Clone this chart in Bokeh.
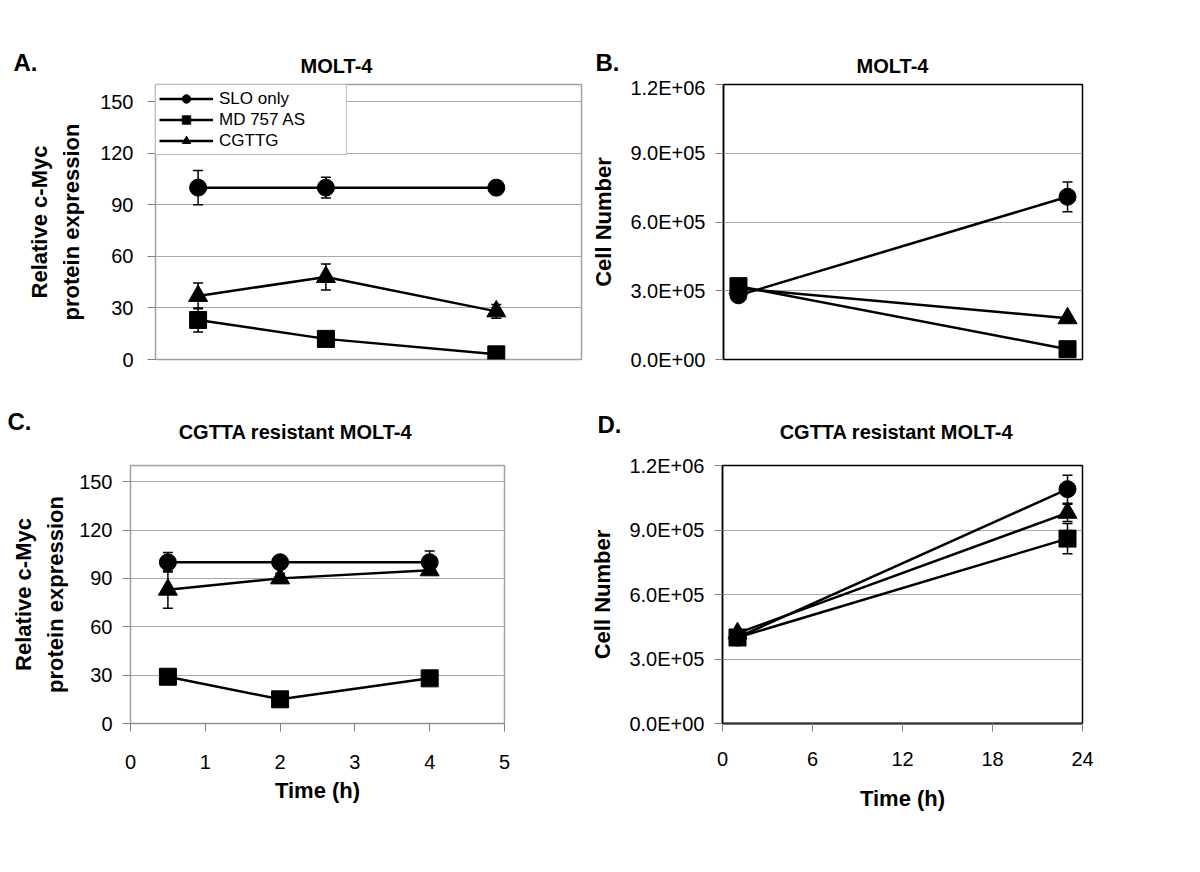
from bokeh.plotting import figure
from bokeh.layouts import column, row
from bokeh.models import (ColumnDataSource, Whisker, TeeHead, Range1d, FixedTicker,
                          Legend, LegendItem, Label)
from bokeh.embed import file_html
from bokeh.resources import INLINE

# ---------------- data ----------------
series_names = ["SLO only", "MD 757 AS", "CGTTG"]
markers = ["circle", "square", "triangle"]
panel_letters = ["A.", "B.", "C.", "D."]
panel_titles = ["MOLT-4", "MOLT-4", "CGTTA resistant MOLT-4", "CGTTA resistant MOLT-4"]

time_short = [0.5, 2, 4]          # hours (panels A, C)
time_long = [1, 23]               # hours (panels B, D)

# Panel A: MOLT-4, relative c-Myc expression
a_slo = [100, 100, 100]
a_slo_err = [10, 6, 4]
a_md = [23, 12, 3]
a_md_err = [7, 0, 0]
a_cgttg = [37, 48, 28]
a_cgttg_err = [7.5, 7.5, 4]

# Panel B: MOLT-4, cell number
b_slo = [2.8e5, 7.1e5]
b_slo_err = [0, 0.65e5]
b_md = [3.2e5, 0.45e5]
b_md_err = [0, 0]
b_cgttg = [3.1e5, 1.8e5]
b_cgttg_err = [0, 0.1e5]

# Panel C: CGTTA resistant MOLT-4, relative c-Myc expression
c_slo = [100, 100, 100]
c_slo_err = [6, 2, 7]
c_md = [29, 15, 28]
c_md_err = [0, 0, 0]
c_cgttg = [83, 90, 95]
c_cgttg_err = [11.5, 3, 2]

# Panel D: CGTTA resistant MOLT-4, cell number
d_slo = [4.0e5, 1.09e6]
d_slo_err = [0, 0.065e6]
d_md = [4.0e5, 8.6e5]
d_md_err = [0, 0.07e6]
d_cgttg = [4.2e5, 9.8e5]
d_cgttg_err = [0, 0.04e6]

expr_ticks = [0, 30, 60, 90, 120, 150]
cell_ticks = [0, 300000, 600000, 900000, 1200000]
cell_tick_labels = ["0.0E+00", "3.0E+05", "6.0E+05", "9.0E+05", "1.2E+06"]
short_time_ticks = [0, 1, 2, 3, 4, 5]
long_time_ticks = [0, 6, 12, 18, 24]

FONT = "Liberation Sans"
GRID = "#a8a8a8"
TICK = "#808080"


def make_fig(width, height, left, right, top, bottom, xr, yr, frame_color):
    p = figure(width=width, height=height, output_backend="svg", toolbar_location=None,
               min_border_left=left, min_border_right=right,
               min_border_top=top, min_border_bottom=bottom,
               x_range=Range1d(*xr), y_range=Range1d(*yr))
    p.background_fill_color = "white"
    p.border_fill_color = "white"
    p.outline_line_color = frame_color
    p.outline_line_width = 1.5
    p.xgrid.visible = False
    p.ygrid.grid_line_color = GRID
    p.ygrid.grid_line_width = 1
    for ax in [p.xaxis[0], p.yaxis[0]]:
        ax.major_tick_in = 0
        ax.major_tick_out = 8
        ax.minor_tick_line_color = None
        ax.major_tick_line_color = TICK
        ax.major_label_text_font = FONT
        ax.major_label_text_font_size = "20px"
        ax.major_label_text_color = "black"
        ax.axis_label_text_font = FONT
        ax.axis_label_text_font_size = "22px"
        ax.axis_label_text_font_style = "bold"
        ax.axis_label_text_color = "black"
        ax.axis_label_text_line_height = 1.3
    return p


def add_series(p, xs, ys, errs, marker, size):
    src = ColumnDataSource(dict(x=xs, y=ys))
    ex = [x for x, e in zip(xs, errs) if e > 0]
    eu = [y + e for y, e in zip(ys, errs) if e > 0]
    el = [y - e for y, e in zip(ys, errs) if e > 0]
    if ex:
        wsrc = ColumnDataSource(dict(x=ex, upper=eu, lower=el))
        w = Whisker(source=wsrc, base="x", upper="upper", lower="lower",
                    line_color="black", line_width=1.5,
                    upper_head=TeeHead(size=10, line_color="black", line_width=1.5),
                    lower_head=TeeHead(size=10, line_color="black", line_width=1.5))
        p.add_layout(w)
    lr = p.line("x", "y", source=src, line_color="black", line_width=2.5)
    sr = p.scatter("x", "y", source=src, marker=marker, size=size,
                   fill_color="black", line_color="black")
    return lr, sr


def make_header(width, height, top):
    h = figure(width=width, height=height, output_backend="svg", toolbar_location=None,
               x_range=Range1d(0, width), y_range=Range1d(top + height, top),
               x_axis_type=None, y_axis_type=None, min_border=0)
    h.grid.visible = False
    h.outline_line_color = None
    h.background_fill_color = "white"
    h.border_fill_color = "white"
    return h


def add_text(p, x, y, text, size, align="left"):
    p.add_layout(Label(x=x, y=y, text=text,
                       text_font=FONT, text_font_size=size, text_font_style="bold",
                       text_align=align, text_baseline="alphabetic", text_color="black"))


sizes = [17, 17, 19]

# ---------------- headers (panel letters + titles) ----------------
h1 = make_header(1198, 76, 0)
add_text(h1, 13, 62, panel_letters[0], "24px")
add_text(h1, 336, 65, panel_titles[0], "20px", "center")
add_text(h1, 595, 62, panel_letters[1], "24px")
add_text(h1, 892, 65, panel_titles[1], "20px", "center")

h2 = make_header(1198, 55, 395)
add_text(h2, 7, 421, panel_letters[2], "24px")
add_text(h2, 295, 431, panel_titles[2], "20px", "center")
add_text(h2, 597, 424, panel_letters[3], "24px")
add_text(h2, 896, 431, panel_titles[3], "20px", "center")

# ---------------- Panel A ----------------
pa = make_fig(583, 319, 155, 2, 7, 35, (0, 5), (0, 160), "#a0a0a0")
pa.xaxis.visible = False
pa.yaxis.ticker = FixedTicker(ticks=expr_ticks)
pa.yaxis.axis_line_color = "#a0a0a0"
pa.yaxis.axis_label = "Relative c-Myc\nprotein expression"
pa.yaxis.major_label_standoff = 14
pa.yaxis.axis_label_standoff = 13
items = []
for name, mk, sz, ys, es in zip(series_names, markers, sizes,
                                [a_slo, a_md, a_cgttg], [a_slo_err, a_md_err, a_cgttg_err]):
    lr, sr = add_series(pa, time_short, ys, es, mk, sz)
    items.append(LegendItem(label=name, renderers=[lr, sr]))
legend = Legend(items=items, location="top_left", margin=0, padding=3, spacing=0,
                glyph_width=54, glyph_height=21, label_height=19, label_width=124,
                label_standoff=6,
                label_text_font=FONT, label_text_font_size="17px", label_text_color="black",
                border_line_color="#808080", border_line_width=1,
                background_fill_color="white", background_fill_alpha=1)
pa.add_layout(legend)

# ---------------- Panel B ----------------
pb = make_fig(615, 319, 140, 116, 8, 36, (0, 24), (0, 1.2e6), "black")
pb.xaxis.visible = False
pb.yaxis.ticker = FixedTicker(ticks=cell_ticks)
pb.yaxis.major_label_overrides = {t: l for t, l in zip(cell_ticks, cell_tick_labels)}
pb.yaxis.axis_line_color = "black"
pb.yaxis.axis_line_width = 1.5
pb.yaxis.axis_label = "Cell Number"
pb.yaxis.major_label_standoff = 10
pb.yaxis.axis_label_standoff = 11
for mk, sz, ys, es in zip(markers, sizes, [b_slo, b_md, b_cgttg], [b_slo_err, b_md_err, b_cgttg_err]):
    add_series(pb, time_long, ys, es, mk, sz)

# ---------------- Panel C ----------------
pc = make_fig(583, 420, 130, 79, 15, 146, (0, 5), (0, 160), "#a0a0a0")
pc.xaxis.ticker = FixedTicker(ticks=short_time_ticks)
pc.yaxis.ticker = FixedTicker(ticks=expr_ticks)
pc.xaxis.axis_line_color = "#909090"
pc.yaxis.axis_line_color = "#a0a0a0"
pc.xaxis.axis_label = "Time (h)"
pc.yaxis.axis_label = "Relative c-Myc\nprotein expression"
pc.xaxis.major_label_standoff = 23
pc.xaxis.axis_label_standoff = 6
pc.yaxis.major_label_standoff = 10
pc.yaxis.axis_label_standoff = 8
for mk, sz, ys, es in zip(markers, sizes, [c_slo, c_md, c_cgttg], [c_slo_err, c_md_err, c_cgttg_err]):
    add_series(pc, time_short, ys, es, mk, sz)

# ---------------- Panel D ----------------
pd_ = make_fig(615, 420, 139, 116, 15, 147, (0, 24), (0, 1.2e6), "black")
pd_.xaxis.ticker = FixedTicker(ticks=long_time_ticks)
pd_.yaxis.ticker = FixedTicker(ticks=cell_ticks)
pd_.yaxis.major_label_overrides = {t: l for t, l in zip(cell_ticks, cell_tick_labels)}
pd_.xaxis.axis_line_color = "#303030"
pd_.xaxis.axis_line_width = 2
pd_.yaxis.axis_line_color = "black"
pd_.yaxis.axis_line_width = 1.5
pd_.xaxis.axis_label = "Time (h)"
pd_.yaxis.axis_label = "Cell Number"
pd_.xaxis.major_label_standoff = 20
pd_.xaxis.axis_label_standoff = 17
pd_.yaxis.major_label_standoff = 10
pd_.yaxis.axis_label_standoff = 11
for mk, sz, ys, es in zip(markers, sizes, [d_slo, d_md, d_cgttg], [d_slo_err, d_md_err, d_cgttg_err]):
    add_series(pd_, time_long, ys, es, mk, sz)

layout = column(h1, row(pa, pb), h2, row(pc, pd_))
open("out.html", "w").write(file_html(layout, INLINE))
